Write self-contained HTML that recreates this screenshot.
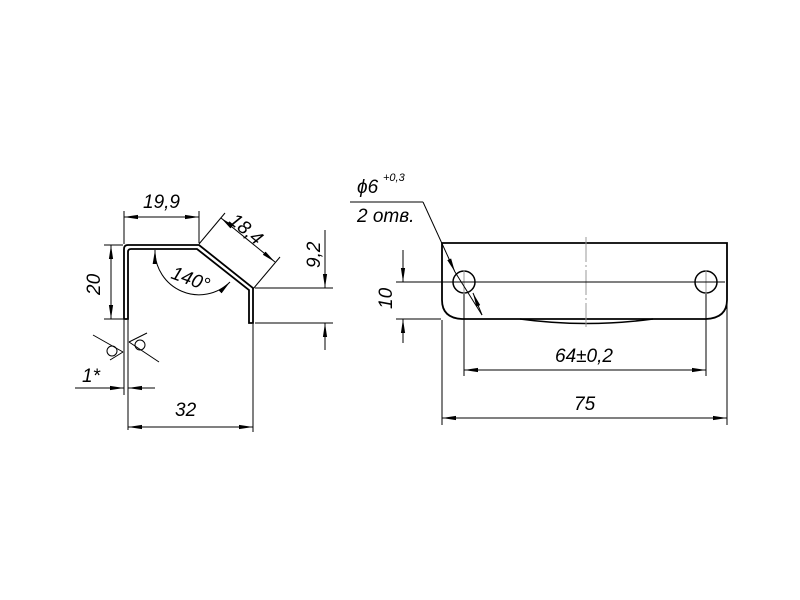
<!DOCTYPE html>
<html><head><meta charset="utf-8"><style>
html,body{margin:0;padding:0;background:#fff;}
svg{display:block;}
text{font-family:"Liberation Sans",sans-serif;font-style:italic;font-size:19px;fill:#000;}
</style></head><body>
<svg width="800" height="600" viewBox="0 0 800 600" xmlns="http://www.w3.org/2000/svg">
<defs>
<marker id="a" viewBox="0 0 14 5" refX="14" refY="2.5" markerWidth="14" markerHeight="5" orient="auto-start-reverse" markerUnits="userSpaceOnUse"><path d="M0,0.4 L14,2.5 L0,4.6z" fill="#000"/></marker>
</defs>
<g fill="none" stroke="#000" stroke-width="1">
<path d="M124,319 L124,249 Q124,245 128,245 L199,245 L253,288 L253,323 L249,323 L249,290 L197,249 L131,249 Q128,249 128,252 L128,319 Z" stroke-width="1.8"/>
<line x1="124" y1="244" x2="124" y2="211"/>
<line x1="199" y1="243" x2="199" y2="211"/>
<line x1="124" y1="217" x2="199" y2="217" marker-start="url(#a)" marker-end="url(#a)"/>
<line x1="104" y1="245" x2="123" y2="245"/>
<line x1="104" y1="319" x2="123" y2="319"/>
<line x1="111" y1="245" x2="111" y2="319" marker-start="url(#a)" marker-end="url(#a)"/>
<line x1="199" y1="244" x2="225" y2="213"/>
<line x1="253" y1="289" x2="280" y2="257"/>
<line x1="221" y1="218" x2="275" y2="262" marker-start="url(#a)" marker-end="url(#a)"/>
<line x1="255" y1="288" x2="333" y2="288"/>
<line x1="255" y1="323" x2="333" y2="323"/>
<line x1="325" y1="230" x2="325" y2="288" marker-end="url(#a)"/>
<line x1="325" y1="323" x2="325" y2="350" marker-start="url(#a)"/>
<path d="M155,250 A44,44 0 0 0 230,282" marker-start="url(#a)" marker-end="url(#a)"/>
<line x1="124" y1="320" x2="124" y2="395"/>
<line x1="128" y1="320" x2="128" y2="430"/>
<line x1="75" y1="388" x2="124" y2="388" marker-end="url(#a)"/>
<line x1="128" y1="388" x2="155" y2="388" marker-start="url(#a)"/>
<line x1="93" y1="335" x2="123" y2="352"/>
<line x1="110" y1="360" x2="123" y2="352"/>
<circle cx="112" cy="351" r="5"/>
<line x1="129" y1="342" x2="159" y2="362"/>
<line x1="129" y1="342" x2="147" y2="333"/>
<circle cx="140" cy="345" r="5"/>
<line x1="253" y1="324" x2="253" y2="432"/>
<line x1="128" y1="427" x2="253" y2="427" marker-start="url(#a)" marker-end="url(#a)"/>

<path d="M442,243 L442,300 Q442,318 462,319 L706,319 Q727,318 727,300 L727,243 Z" stroke-width="1.8"/>
<path d="M520,319 Q586,328 653,319" stroke-width="1.6"/>
<circle cx="464" cy="282" r="11" stroke-width="1.5"/>
<circle cx="706" cy="282" r="11" stroke-width="1.5"/>
<line x1="586" y1="237" x2="586" y2="327" stroke="#999" stroke-dasharray="25,3,2,3"/>
<line x1="464" y1="270" x2="464" y2="294" stroke="#999"/>
<line x1="706" y1="270" x2="706" y2="294" stroke="#999"/>
<line x1="396" y1="282" x2="725" y2="282"/>
<line x1="396" y1="319" x2="441" y2="319"/>
<line x1="403" y1="250" x2="403" y2="282" marker-end="url(#a)"/>
<line x1="403" y1="319" x2="403" y2="343" marker-start="url(#a)"/>
<line x1="464" y1="294" x2="464" y2="376"/>
<line x1="706" y1="294" x2="706" y2="376"/>
<line x1="464" y1="370" x2="706" y2="370" marker-start="url(#a)" marker-end="url(#a)"/>
<line x1="442" y1="320" x2="442" y2="425"/>
<line x1="727" y1="244" x2="727" y2="425"/>
<line x1="442" y1="418" x2="727" y2="418" marker-start="url(#a)" marker-end="url(#a)"/>
<line x1="350" y1="202" x2="423" y2="202"/>
<line x1="423" y1="202" x2="455" y2="272" marker-end="url(#a)"/>
<line x1="455" y1="272" x2="482" y2="315"/>
<line x1="473" y1="293" x2="482" y2="315" marker-start="url(#a)"/>
</g>
<text x="143" y="208">19,9</text>
<text transform="translate(228,222) rotate(40)">18,4</text>
<text transform="translate(100,295) rotate(-90)">20</text>
<text transform="translate(320,268) rotate(-90)">9,2</text>
<text transform="translate(170,278) rotate(20)">140°</text>
<text x="82" y="382">1*</text>
<text x="175" y="416">32</text>
<text x="357" y="193">ϕ6</text>
<text x="383" y="181" style="font-size:11px">+0,3</text>
<text x="357" y="222">2 отв.</text>
<text transform="translate(392,309) rotate(-90)">10</text>
<text x="555" y="362">64±0,2</text>
<text x="574" y="410">75</text>
</svg>
</body></html>
